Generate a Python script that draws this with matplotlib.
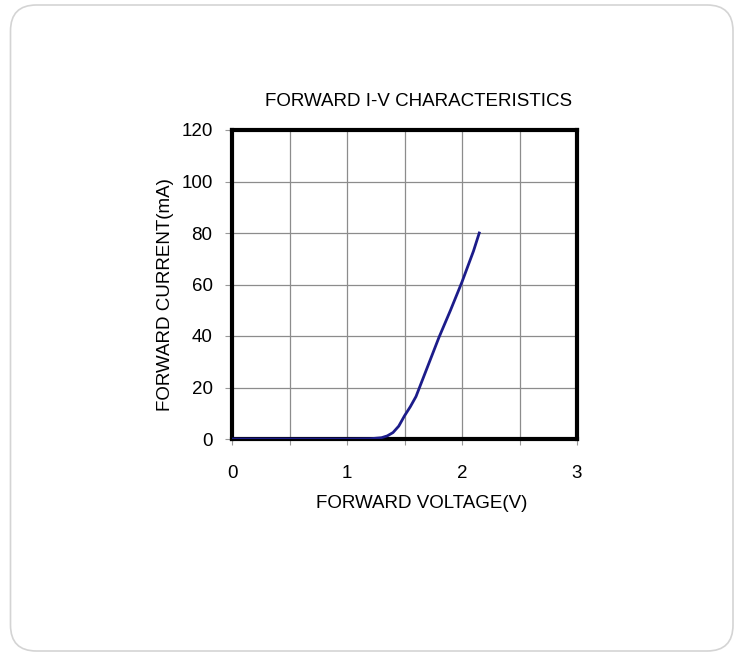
import matplotlib
matplotlib.use('Agg')
import matplotlib.pyplot as plt
from matplotlib.patches import FancyBboxPatch
from matplotlib.ticker import MultipleLocator, FuncFormatter

# forward voltage (V) vs forward current (mA)
voltage = [0.0, 1.0, 1.2, 1.3, 1.35, 1.4, 1.45, 1.5, 1.55, 1.6, 1.7, 1.8, 1.9, 2.0, 2.1, 2.15]
current = [0.0, 0.0, 0.1, 0.5, 1.2, 2.5, 5.0, 9.0, 12.5, 16.5, 28.0, 39.5, 50.0, 61.0, 73.0, 80.0]

title = 'FORWARD I-V CHARACTERISTICS'
x_label = 'FORWARD VOLTAGE(V)'
y_label = 'FORWARD CURRENT(mA)'

plt.rcParams['font.family'] = ['Liberation Sans', 'DejaVu Sans']
FS = 13.5

W, H = 740, 652
fig = plt.figure(figsize=(W / 100, H / 100), dpi=100)
fig.patch.set_facecolor('white')

# rounded card behind the chart
card = FancyBboxPatch((10.5 / W, 1 - 651 / H), 722.5 / W, 646 / H,
                      boxstyle='round,pad=0,rounding_size=0.035',
                      transform=fig.transFigure, facecolor='white',
                      edgecolor='#d4d4d4', linewidth=1.2, mutation_aspect=W / H,
                      zorder=-5)
fig.patches.append(card)

ax = fig.add_axes([232 / W, 1 - 439 / H, 345 / W, 309 / H])
ax.set_facecolor('none')
ax.plot(voltage, current, color='#1c1c8a', linewidth=2.0, zorder=3)

ax.set_xlim(0, 3)
ax.set_ylim(0, 120)
ax.xaxis.set_major_locator(MultipleLocator(0.5))
ax.yaxis.set_major_locator(MultipleLocator(20))
ax.xaxis.set_major_formatter(FuncFormatter(lambda v, p: '%d' % v if abs(v - round(v)) < 1e-6 else ''))
ax.grid(True, color='#8c8c8c', linewidth=0.9)
ax.set_axisbelow(True)

for s in ax.spines.values():
    s.set_linewidth(3.0)
    s.set_color('black')

ax.tick_params(axis='x', length=4, width=0.8, color='#999999', pad=15, labelsize=FS)
ax.tick_params(axis='y', length=5, width=0.8, color='#999999', pad=9, labelsize=FS)

ax.set_xlabel(x_label, fontsize=FS)
ax.xaxis.set_label_coords((421.5 - 232) / 345, -(503 - 439) / 309)
ax.xaxis.label.set_va('center')
ax.set_ylabel(y_label, fontsize=FS)
ax.yaxis.set_label_coords(-(232 - 166) / 345, (439 - 295) / 309)
ax.yaxis.label.set_va('center')

fig.text(419 / W, 1 - 101 / H, title, ha='center', va='center', fontsize=FS)

fig.savefig('out.png', dpi=100)
